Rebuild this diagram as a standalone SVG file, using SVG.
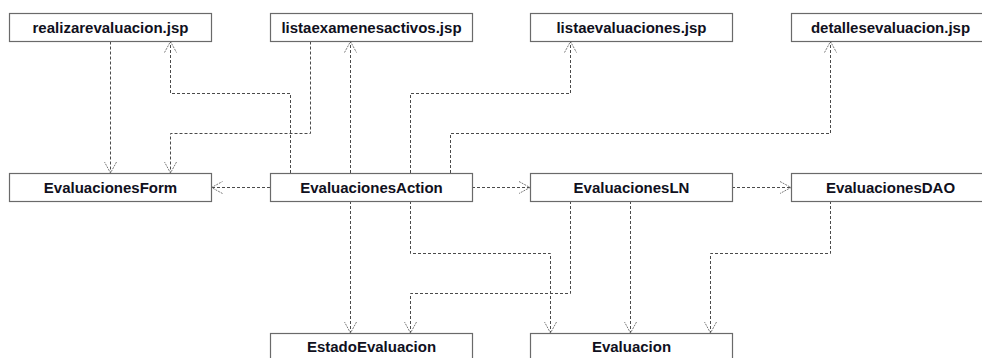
<svg xmlns="http://www.w3.org/2000/svg" width="982" height="358" viewBox="0 0 982 358">
  <style>
    .box rect { fill: #ffffff; stroke: #6a6a6a; stroke-width: 1.2; }
    .box text { font-family: "Liberation Sans", Arial, sans-serif; font-weight: bold; font-size: 15px; fill: #101020; text-anchor: middle; }
    .dep { fill: none; stroke: #4a4a4a; stroke-width: 1; stroke-dasharray: 3 2; marker-end: url(#open); }
  </style>
  <defs>
    <marker id="open" markerUnits="userSpaceOnUse" markerWidth="16" markerHeight="16" viewBox="-14 -8 16 16" refX="0" refY="0" orient="auto" overflow="visible">
      <path d="M-11,-6 L0,0 L-11,6" fill="none" stroke="#7a7a7a" stroke-width="1" stroke-dasharray="2 1"/>
    </marker>
  </defs>
  <rect width="982" height="358" fill="#ffffff"/>

  <g id="connectors">
    <path class="dep" d="M110.5,41.5 V173"/>
    <path class="dep" d="M290.5,173 V93.5 H170.5 V41.5"/>
    <path class="dep" d="M310.5,41.5 V133.5 H170.5 V173"/>
    <path class="dep" d="M350.5,173 V41.5"/>
    <path class="dep" d="M410.5,173 V93.5 H570.5 V41.5"/>
    <path class="dep" d="M450.5,173 V133.5 H830.5 V41.5"/>
    <path class="dep" d="M270,187.5 H211.5"/>
    <path class="dep" d="M472,187.5 H530"/>
    <path class="dep" d="M732,187.5 H791"/>
    <path class="dep" d="M350.5,201 V333"/>
    <path class="dep" d="M410.5,201 V253.5 H550.5 V333"/>
    <path class="dep" d="M570.5,201 V293.5 H410.5 V333"/>
    <path class="dep" d="M630.5,201 V333"/>
    <path class="dep" d="M830.5,201 V253.5 H710.5 V333"/>
  </g>

  <g id="realizarevaluacion" class="box">
    <rect x="9.5" y="13.5" width="202" height="28"/>
    <text x="110.5" y="32.5">realizarevaluacion.jsp</text>
  </g>
  <g id="listaexamenesactivos" class="box">
    <rect x="270.5" y="13.5" width="202" height="28"/>
    <text x="371.5" y="32.5">listaexamenesactivos.jsp</text>
  </g>
  <g id="listaevaluaciones" class="box">
    <rect x="530.5" y="13.5" width="202" height="28"/>
    <text x="631.5" y="32.5">listaevaluaciones.jsp</text>
  </g>
  <g id="detallesevaluacion" class="box">
    <rect x="791.5" y="13.5" width="202" height="28"/>
    <text x="890.5" y="32.5">detallesevaluacion.jsp</text>
  </g>

  <g id="EvaluacionesForm" class="box">
    <rect x="9.5" y="173.5" width="202" height="28"/>
    <text x="110.5" y="192.5">EvaluacionesForm</text>
  </g>
  <g id="EvaluacionesAction" class="box">
    <rect x="270.5" y="173.5" width="202" height="28"/>
    <text x="371.5" y="192.5">EvaluacionesAction</text>
  </g>
  <g id="EvaluacionesLN" class="box">
    <rect x="530.5" y="173.5" width="202" height="28"/>
    <text x="631.5" y="192.5">EvaluacionesLN</text>
  </g>
  <g id="EvaluacionesDAO" class="box">
    <rect x="791.5" y="173.5" width="202" height="28"/>
    <text x="890.5" y="192.5">EvaluacionesDAO</text>
  </g>

  <g id="EstadoEvaluacion" class="box">
    <rect x="270.5" y="333.5" width="202" height="28"/>
    <text x="371.5" y="352">EstadoEvaluacion</text>
  </g>
  <g id="Evaluacion" class="box">
    <rect x="530.5" y="333.5" width="202" height="28"/>
    <text x="631.5" y="352">Evaluacion</text>
  </g>
</svg>
